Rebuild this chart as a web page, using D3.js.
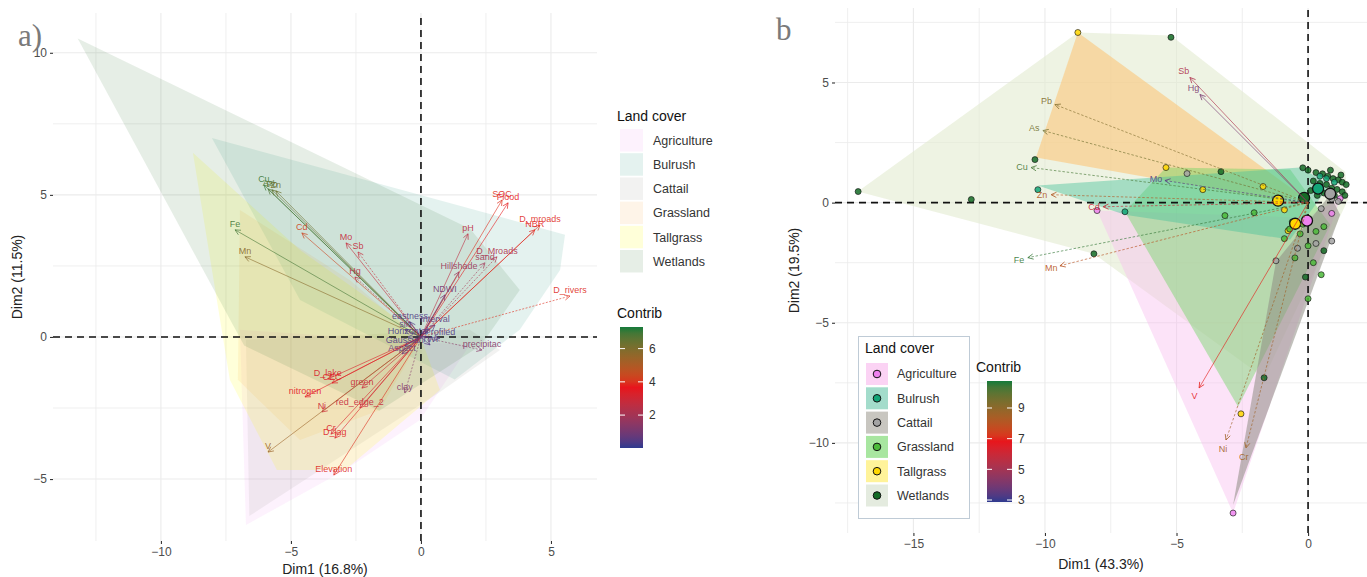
<!DOCTYPE html>
<html>
<head>
<meta charset="utf-8">
<script src="https://cdn.jsdelivr.net/npm/d3@7"></script>
<style>
  body { margin: 0; background: #fff; }
  svg { display: block; font-family: "Liberation Sans", Arial, sans-serif; }
</style>
</head>
<body>
<div id="chart"></div>
<script>
// ---------- data ----------
const landCovers = ["Agriculture", "Bulrush", "Cattail", "Grassland", "Tallgrass", "Wetlands"];

// panel a: variable arrows
const varsA = ["Cu","As","Pb","Zn","Fe","Mn","Cd","Mo","Sb","Hg","pH","SOC","Flood","D_mroads","NBR",
  "D_Mroads","sand","Hillshade","NDWI","D_rivers","precipitac","clay","D_lake","CEC","nitrogen","green",
  "Ni","red_edge_2","Cr","D_lag","V","Elevation","eastness","Interval","silt","Horizontal","Profiled",
  "Gaussian","TWI","Aspect"];
const dim1A = [-6.04,-5.88,-5.73,-5.58,-7.15,-6.77,-4.58,-2.88,-2.42,-2.54,1.81,3.12,3.35,4.58,4.38,
  2.92,2.46,1.46,0.92,5.73,2.35,-0.62,-3.58,-3.42,-4.46,-2.27,
  -3.81,-2.35,-3.46,-3.31,-5.88,-3.35,-0.42,0.54,-0.62,-0.5,0.73,
  -0.62,0.35,-0.73];
const dim2A = [5.35,5.21,5.18,5.14,3.77,2.82,3.66,3.31,2.99,2.11,3.63,4.82,4.72,3.94,3.77,
  2.82,2.61,2.29,1.48,1.44,-0.46,-1.97,-1.48,-1.62,-2.11,-1.80,
  -2.64,-2.50,-3.42,-3.56,-4.05,-4.86,0.53,0.42,0.25,0.0,-0.04,
  -0.32,-0.28,-0.6];
const contribA = [7.0,6.8,6.5,6.3,6.9,5.8,4.3,2.8,2.8,2.5,2.6,3.9,3.7,3.9,3.8,
  2.3,2.0,1.8,1.0,3.9,1.4,1.3,3.3,3.4,3.5,2.9,
  3.0,2.8,3.3,3.4,5.4,3.9,0.4,0.6,0.5,0.3,0.5,
  0.4,0.5,0.8];
const dashedA = ["D_rivers","precipitac","Sb","Hg","D_Mroads","sand","clay"];

// panel a: hulls (Dim1, Dim2), same order as landCovers
const hullsA = [
  [[-6.96,0.25],[1.88,-0.28],[-0.04,-2.92],[-2.92,-4.68],[-6.73,-6.62]],
  [[-8.04,7.0],[5.54,3.6],[5.35,2.36],[3.8,0.25],[1.3,-1.5],[-4.65,1.3]],
  [[-6.6,-6.3],[-6.73,-0.1],[1.88,0.25],[3.04,-0.46],[0.73,-1.94]],
  [[-6.96,4.47],[-2.73,2.0],[-0.04,-0.1],[-1.58,-2.57],[-4.65,-3.63],[-7.04,-1.51]],
  [[-8.77,6.48],[-4.65,3.06],[-0.04,0.07],[0.73,-1.87],[-2.92,-4.68],[-5.54,-4.68],[-7.35,-1.51]],
  [[-13.2,10.5],[1.9,3.8],[3.8,1.65],[2.3,-0.3],[-1.6,-2.6],[-6.8,-0.3]]
];

// panel b: variable arrows
const varsB = ["Sb","Hg","Pb","As","Cu","Zn","Mo","Cd","Fe","Mn","V","Ni","Cr"];
const dim1B = [-4.49,-4.11,-9.62,-10.08,-10.53,-9.77,-5.44,-7.79,-10.65,-9.43,-4.14,-3.12,-2.36];
const dim2B = [5.21,4.5,4.08,3.0,1.46,0.33,0.92,-0.17,-2.29,-2.63,-7.71,-9.88,-10.21];
const contribB = [5.3,4.0,9.3,9.6,10.3,8.2,3.4,6.0,10.5,8.0,6.9,8.6,8.6];
const solidB = ["V","Sb","Hg"];

// panel b: individuals
const indGroupB = [
  "Wetlands","Wetlands","Wetlands","Wetlands","Wetlands","Wetlands","Wetlands",
  "Wetlands","Wetlands","Wetlands","Wetlands","Wetlands","Wetlands","Wetlands","Wetlands",
  "Wetlands","Wetlands","Wetlands","Wetlands","Wetlands","Wetlands","Wetlands","Wetlands",
  "Wetlands","Wetlands","Wetlands","Wetlands","Wetlands","Wetlands","Wetlands","Wetlands",
  "Tallgrass","Tallgrass","Tallgrass","Tallgrass","Tallgrass","Tallgrass","Tallgrass",
  "Bulrush","Bulrush","Bulrush","Bulrush","Bulrush",
  "Agriculture","Agriculture","Agriculture","Agriculture",
  "Cattail","Cattail","Cattail","Cattail","Cattail","Cattail","Cattail","Cattail",
  "Grassland","Grassland","Grassland","Grassland","Grassland","Grassland","Grassland",
  "Grassland","Grassland","Grassland","Grassland","Grassland","Grassland","Grassland"];
const ind1B = [
  -17.1,-12.8,-10.38,-5.21,-8.14,-1.67,-3.31,
  0.0,0.3,0.55,0.75,0.95,1.15,1.3,1.45,
  0.2,0.45,0.7,0.9,1.1,1.3,0.6,0.35,
  1.0,-0.2,0.1,0.85,1.25,1.4,-0.1,0.6,
  -8.75,-5.4,-2.55,-1.71,-4.0,-0.76,-0.9,
  -10.27,-6.96,0.7,1.0,0.45,
  -8.02,-2.85,1.22,0.9,
  -4.6,-1.22,0.9,1.15,0.5,0.3,0.9,-0.4,
  -3.16,-2.05,-0.6,-0.3,0.0,0.3,0.6,
  -0.9,-0.5,0.2,-0.2,0.0,-0.7,0.5];
const ind2B = [
  0.46,0.13,1.79,6.88,-2.13,-7.29,1.29,
  1.35,1.25,1.2,1.1,1.0,0.95,0.85,0.75,
  0.9,0.8,0.75,0.6,0.55,0.45,0.4,0.3,
  0.3,1.45,0.5,1.35,1.15,0.3,-3.1,-2.0,
  7.08,1.46,-8.79,0.67,0.54,-1.17,-0.3,
  0.54,-0.38,1.0,0.85,1.1,
  -0.33,-12.92,0.17,-0.45,
  1.21,-2.42,0.15,0.05,-0.25,-1.7,-1.6,-1.9,
  -0.54,-0.42,-0.8,-1.3,-1.8,-1.2,-1.0,
  -1.5,-2.3,-2.5,-0.9,-4.0,-1.1,-3.0];

// panel b: group mean points
const meanGroupB = ["Wetlands","Bulrush","Cattail","Tallgrass","Tallgrass","Agriculture"];
const mean1B = [-0.15,0.38,0.84,-1.14,-0.49,-0.04];
const mean2B = [0.2,0.58,0.37,0.08,-0.88,-0.75];

// panel b: hulls (Dim1, Dim2), same order as landCovers
const hullsB = [
  [[-8.02,-0.33],[-0.08,-0.63],[1.22,0.17],[-2.85,-12.92]],
  [[-10.27,0.71],[-0.3,1.46],[0.84,0.75],[-0.68,-1.54],[-6.96,-0.5]],
  [[-2.85,-12.58],[-1.22,-2.46],[0.84,0.33],[1.22,-0.5]],
  [[-6.96,-0.38],[-5.4,1.46],[-0.68,1.38],[0.84,-0.92],[-2.66,-8.5]],
  [[-8.75,7.08],[-10.34,1.88],[-1.06,0.08],[-0.3,0.33]],
  [[-17.11,0.46],[-8.75,7.08],[-5.21,6.96],[1.41,1.29],[1.52,0.13],[-1.67,-7.29],[-8.14,-2.13]]
];

// ticks
const xTicksA = [-10, -5, 0, 5];
const yTicksA = [-5, 0, 5, 10];
const xTicksB = [-15, -10, -5, 0];
const yTicksB = [-10, -5, 0, 5];
const contribTicksA = [2, 4, 6];
const contribTicksB = [3, 5, 7, 9];

// ---------- styles ----------
const hullColorA = {Agriculture:"#ee82ee", Bulrush:"#2e9e80", Cattail:"#85857e",
  Grassland:"#f4a742", Tallgrass:"#ffff00", Wetlands:"#3d7a3d"};
const hullAlphaA = {Agriculture:0.1, Bulrush:0.13, Cattail:0.11, Grassland:0.12, Tallgrass:0.15, Wetlands:0.13};
const hullColorB = {Agriculture:"#f7bdee", Bulrush:"#4cc49c", Cattail:"#8e8c84",
  Grassland:"#6ad35c", Tallgrass:"#fcc77a", Wetlands:"#e2ebd0"};
const hullAlphaB = {Agriculture:0.42, Bulrush:0.45, Cattail:0.55, Grassland:0.42, Tallgrass:0.6, Wetlands:0.6};
const keyColorB = {Agriculture:"#fbd3f4", Bulrush:"#a3dccb", Cattail:"#c8c6c0",
  Grassland:"#a8e6a0", Tallgrass:"#fff39a", Wetlands:"#e4ebdf"};
const pointColorB = {Agriculture:"#ee82ee", Bulrush:"#12a577", Cattail:"#a3a3a3",
  Grassland:"#4cba3a", Tallgrass:"#ffd700", Wetlands:"#146b26"};

const W = 1367, H = 577;
const svg = d3.select("#chart").append("svg").attr("width", W).attr("height", H);

const colorA = d3.scaleLinear().domain([0.02, 3.66, 7.3])
  .range(["#2e3a8f", "#e8141c", "#147a3a"]).interpolate(d3.interpolateLab);
const colorB = d3.scaleLinear().domain([2.87, 6.8, 10.76])
  .range(["#2e3a8f", "#e8141c", "#147a3a"]).interpolate(d3.interpolateLab);

function arrowHead(x0, y0, x1, y1, len) {
  const a = Math.atan2(y1 - y0, x1 - x0);
  const p1 = [x1 + len * Math.cos(a + Math.PI - 0.45), y1 + len * Math.sin(a + Math.PI - 0.45)];
  const p2 = [x1 + len * Math.cos(a + Math.PI + 0.45), y1 + len * Math.sin(a + Math.PI + 0.45)];
  return `M${p1[0]},${p1[1]}L${x1},${y1}L${p2[0]},${p2[1]}`;
}

function drawFrame(g, x, y, xTicks, yTicks) {
  const [x0, x1] = x.range();
  const [y0, y1] = y.range();
  // minor + major grid
  const xs = d3.range(Math.ceil(x.domain()[0] / 2.5) * 2.5, x.domain()[1], 2.5);
  const ys = d3.range(Math.ceil(y.domain()[0] / 2.5) * 2.5, y.domain()[1], 2.5);
  g.append("g").selectAll("line").data(xs).join("line")
    .attr("x1", d => x(d)).attr("x2", d => x(d)).attr("y1", y0).attr("y2", y1)
    .attr("stroke", "#ebebeb").attr("stroke-width", d => d % 5 === 0 ? 1.1 : 0.8);
  g.append("g").selectAll("line").data(ys).join("line")
    .attr("y1", d => y(d)).attr("y2", d => y(d)).attr("x1", x0).attr("x2", x1)
    .attr("stroke", "#ebebeb").attr("stroke-width", d => d % 5 === 0 ? 1.1 : 0.8);

  const xa = g.append("g").attr("transform", `translate(0,${y0})`)
    .call(d3.axisBottom(x).tickValues(xTicks).tickSize(3).tickPadding(3));
  const ya = g.append("g").attr("transform", `translate(${x0},0)`)
    .call(d3.axisLeft(y).tickValues(yTicks).tickSize(3).tickPadding(3));
  [xa, ya].forEach(a => {
    a.select(".domain").remove();
    a.selectAll("line").attr("stroke", "#333").attr("stroke-width", 1.1);
    a.selectAll("text").attr("fill", "#4d4d4d").style("font-size", "12px")
      .style("font-family", '"Liberation Sans", Arial, sans-serif');
  });
}

function zeroLines(g, x, y) {
  const [x0, x1] = x.range();
  const [y0, y1] = y.range();
  g.append("line").attr("x1", x0).attr("x2", x1).attr("y1", y(0)).attr("y2", y(0))
    .attr("stroke", "#111").attr("stroke-width", 1.6).attr("stroke-dasharray", "7,5");
  g.append("line").attr("x1", x(0)).attr("x2", x(0)).attr("y1", y0).attr("y2", y1)
    .attr("stroke", "#111").attr("stroke-width", 1.6).attr("stroke-dasharray", "7,5");
}

function colorBar(g, left, top, w, h, scale, ticks, id) {
  const dom = scale.domain();
  const grad = svg.append("defs").append("linearGradient").attr("id", id)
    .attr("x1", 0).attr("x2", 0).attr("y1", 1).attr("y2", 0);
  d3.range(0, 1.0001, 0.05).forEach(t => {
    grad.append("stop").attr("offset", t)
      .attr("stop-color", scale(dom[0] + t * (dom[2] - dom[0])));
  });
  g.append("rect").attr("x", left).attr("y", top).attr("width", w).attr("height", h)
    .attr("fill", `url(#${id})`);
  const yb = d3.scaleLinear().domain([dom[0], dom[2]]).range([top + h, top]);
  ticks.forEach(t => {
    g.append("line").attr("x1", left).attr("x2", left + 5).attr("y1", yb(t)).attr("y2", yb(t))
      .attr("stroke", "#fff").attr("stroke-width", 1);
    g.append("line").attr("x1", left + w - 5).attr("x2", left + w).attr("y1", yb(t)).attr("y2", yb(t))
      .attr("stroke", "#fff").attr("stroke-width", 1);
    g.append("text").attr("x", left + w + 6).attr("y", yb(t)).attr("dy", "0.35em")
      .attr("fill", "#333").style("font-size", "12px").text(t);
  });
}

// ---------- panel a ----------
const xA = d3.scaleLinear().domain([-14.15, 6.77]).range([53, 597]);
const yA = d3.scaleLinear().domain([-7.18, 11.4]).range([541, 13]);
const gA = svg.append("g");
drawFrame(gA, xA, yA, xTicksA, yTicksA);

gA.append("g").selectAll("path").data(hullsA).join("path")
  .attr("d", d => "M" + d.map(p => `${xA(p[0])},${yA(p[1])}`).join("L") + "Z")
  .attr("fill", (d, i) => hullColorA[landCovers[i]])
  .attr("fill-opacity", (d, i) => hullAlphaA[landCovers[i]]);

zeroLines(gA, xA, yA);

const arrA = gA.append("g");
varsA.forEach((v, i) => {
  const c = colorA(contribA[i]);
  const x0 = xA(0), y0 = yA(0), x1 = xA(dim1A[i]), y1 = yA(dim2A[i]);
  arrA.append("line").attr("x1", x0).attr("y1", y0).attr("x2", x1).attr("y2", y1)
    .attr("stroke", c).attr("stroke-width", 0.7).attr("stroke-opacity", 0.85)
    .attr("stroke-dasharray", dashedA.includes(v) ? "2,1.5" : null);
  arrA.append("path").attr("d", arrowHead(x0, y0, x1, y1, 6))
    .attr("fill", "none").attr("stroke", c).attr("stroke-width", 0.7);
  arrA.append("text").attr("x", x1).attr("y", y1 - 3)
    .attr("text-anchor", "middle").attr("fill", c).attr("fill-opacity", 0.9)
    .style("font-size", "9px").text(v);
});

gA.append("text").attr("x", (53 + 597) / 2).attr("y", 574).attr("text-anchor", "middle")
  .attr("fill", "#222").style("font-size", "14px").text("Dim1 (16.8%)");
gA.append("text").attr("transform", `translate(22,${(13 + 541) / 2}) rotate(-90)`)
  .attr("text-anchor", "middle").attr("fill", "#222").style("font-size", "14px").text("Dim2 (11.5%)");
gA.append("text").attr("x", 18).attr("y", 46)
  .style("font-family", '"Liberation Serif", "DejaVu Serif", serif')
  .style("font-size", "31px").attr("fill", "#7a7a7a").text("a)");

// legend a
const legA = svg.append("g");
legA.append("text").attr("x", 617).attr("y", 121).attr("fill", "#111").style("font-size", "14px").text("Land cover");
landCovers.forEach((lc, i) => {
  const yy = 129 + i * 24.2;
  legA.append("rect").attr("x", 620).attr("y", yy).attr("width", 23).attr("height", 22.5)
    .attr("fill", hullColorA[lc]).attr("fill-opacity", hullAlphaA[lc]);
  legA.append("text").attr("x", 653).attr("y", yy + 11.5).attr("dy", "0.35em")
    .attr("fill", "#333").style("font-size", "12.5px").text(lc);
});
legA.append("text").attr("x", 617).attr("y", 318).attr("fill", "#111").style("font-size", "14px").text("Contrib");
colorBar(legA, 620, 327, 23, 121, colorA, contribTicksA, "gradA");

// ---------- panel b ----------
const xB = d3.scaleLinear().domain([-17.98, 2.24]).range([835, 1367]);
const yB = d3.scaleLinear().domain([-13.75, 8.1]).range([533, 8]);
const gB = svg.append("g");
drawFrame(gB, xB, yB, xTicksB, yTicksB);

const hullOrderB = ["Wetlands", "Agriculture", "Tallgrass", "Grassland", "Bulrush", "Cattail"];
gB.append("g").selectAll("path").data(hullOrderB).join("path")
  .attr("d", lc => "M" + hullsB[landCovers.indexOf(lc)].map(p => `${xB(p[0])},${yB(p[1])}`).join("L") + "Z")
  .attr("fill", lc => hullColorB[lc]).attr("fill-opacity", lc => hullAlphaB[lc]);

zeroLines(gB, xB, yB);

// individuals
gB.append("g").selectAll("circle").data(indGroupB).join("circle")
  .attr("cx", (d, i) => xB(ind1B[i])).attr("cy", (d, i) => yB(ind2B[i]))
  .attr("r", 3).attr("fill", d => pointColorB[d]).attr("fill-opacity", 0.85)
  .attr("stroke", "#111").attr("stroke-opacity", 0.8).attr("stroke-width", 0.8);

// mean points
gB.append("g").selectAll("circle").data(meanGroupB).join("circle")
  .attr("cx", (d, i) => xB(mean1B[i])).attr("cy", (d, i) => yB(mean2B[i]))
  .attr("r", 5.5).attr("fill", d => pointColorB[d])
  .attr("stroke", "#111").attr("stroke-width", 1.3);

const arrB = gB.append("g");
varsB.forEach((v, i) => {
  const c = colorB(contribB[i]);
  const x0 = xB(0), y0 = yB(0), x1 = xB(dim1B[i]), y1 = yB(dim2B[i]);
  arrB.append("line").attr("x1", x0).attr("y1", y0).attr("x2", x1).attr("y2", y1)
    .attr("stroke", c).attr("stroke-width", 0.8).attr("stroke-opacity", 0.8)
    .attr("stroke-dasharray", solidB.includes(v) ? null : "2.5,1.8");
  arrB.append("path").attr("d", arrowHead(x0, y0, x1, y1, 6))
    .attr("fill", "none").attr("stroke", c).attr("stroke-width", 0.8);
  const a = Math.atan2(y1 - y0, x1 - x0);
  arrB.append("text").attr("x", x1 + 9 * Math.cos(a)).attr("y", y1 + 9 * Math.sin(a))
    .attr("dy", "0.35em").attr("text-anchor", "middle").attr("fill", c).attr("fill-opacity", 0.9)
    .style("font-size", "9px").text(v);
});

gB.append("text").attr("x", (835 + 1367) / 2).attr("y", 569).attr("text-anchor", "middle")
  .attr("fill", "#222").style("font-size", "14px").text("Dim1 (43.3%)");
gB.append("text").attr("transform", `translate(799,${(8 + 533) / 2}) rotate(-90)`)
  .attr("text-anchor", "middle").attr("fill", "#222").style("font-size", "14px").text("Dim2 (19.5%)");
gB.append("text").attr("x", 776).attr("y", 40)
  .style("font-family", '"Liberation Serif", "DejaVu Serif", serif')
  .style("font-size", "31px").attr("fill", "#7a7a7a").text("b");

// legend b
const legB = svg.append("g");
legB.append("rect").attr("x", 858.5).attr("y", 336.5).attr("width", 111).attr("height", 182)
  .attr("fill", "#fff").attr("stroke", "#bfcbd6").attr("stroke-width", 1);
legB.append("text").attr("x", 865).attr("y", 353).attr("fill", "#111").style("font-size", "14px").text("Land cover");
landCovers.forEach((lc, i) => {
  const yy = 363 + i * 24.3;
  legB.append("rect").attr("x", 866).attr("y", yy).attr("width", 22).attr("height", 22)
    .attr("fill", keyColorB[lc]);
  legB.append("circle").attr("cx", 877).attr("cy", yy + 11).attr("r", 3.8)
    .attr("fill", pointColorB[lc]).attr("stroke", "#111").attr("stroke-width", 1);
  legB.append("text").attr("x", 897).attr("y", yy + 11).attr("dy", "0.35em")
    .attr("fill", "#333").style("font-size", "12.5px").text(lc);
});
legB.append("text").attr("x", 976).attr("y", 372).attr("fill", "#111").style("font-size", "14px").text("Contrib");
colorBar(legB, 987, 381, 25, 121, colorB, contribTicksB, "gradB");
</script>
</body>
</html>
